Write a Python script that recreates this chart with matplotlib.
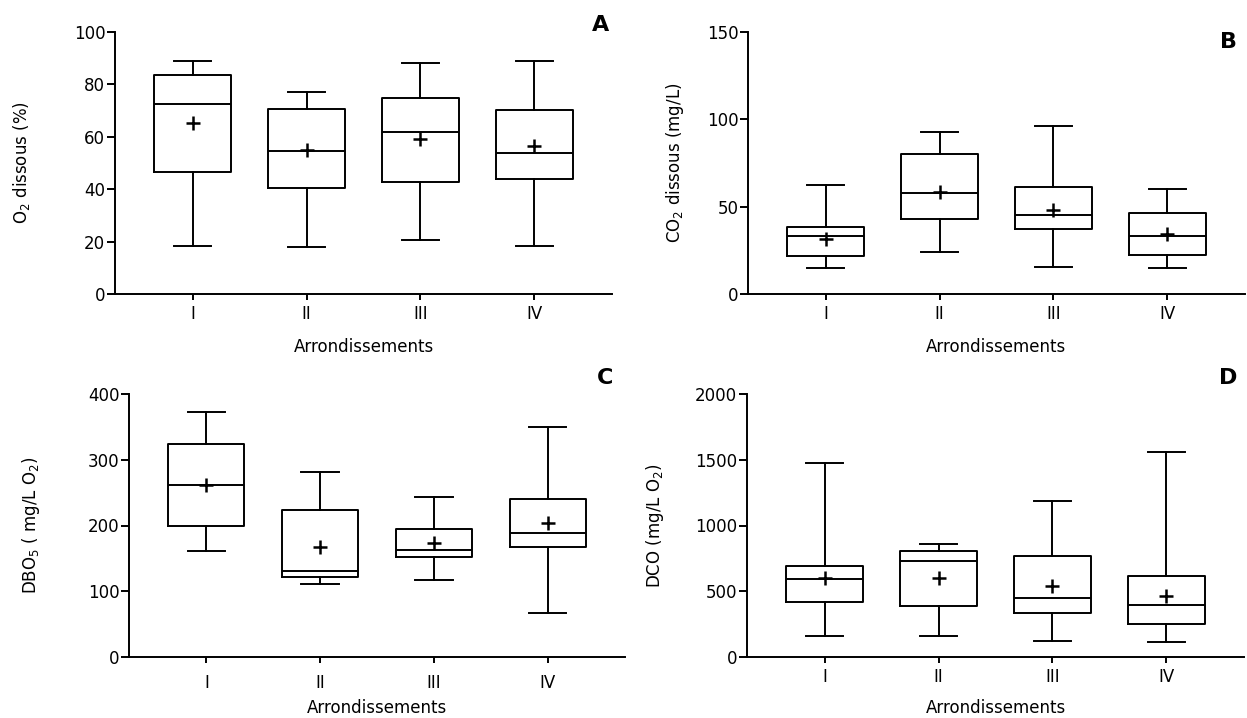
import matplotlib
matplotlib.use("Agg")
import matplotlib.pyplot as plt

plt.rcParams['font.family'] = ['DejaVu Sans']
plt.rcParams['mathtext.fontset'] = 'dejavusans'
tsize = 12
ysize = 12

arrond = ["I", "II", "III", "IV"]

# each list: one value per arrondissement (I..IV)
o2_min = [18.4, 17.8, 20.5, 18.4]
o2_q1 = [46.4, 40.3, 42.7, 43.9]
o2_med = [72.5, 54.5, 62.0, 53.9]
o2_q3 = [83.6, 70.7, 75.0, 70.2]
o2_max = [88.8, 77.0, 88.2, 88.8]
o2_mean = [65.1, 55.0, 59.0, 56.6]

co2_min = [14.7, 23.9, 15.7, 14.7]
co2_q1 = [22.0, 42.8, 37.2, 22.3]
co2_med = [33.4, 57.9, 45.5, 33.4]
co2_q3 = [38.6, 80.0, 61.1, 46.2]
co2_max = [62.3, 93.0, 96.1, 60.4]
co2_mean = [31.5, 58.3, 48.1, 34.4]

dbo_min = [161, 111, 117, 67]
dbo_q1 = [199, 121, 152, 168]
dbo_med = [262, 131, 163, 188]
dbo_q3 = [324, 223, 194, 240]
dbo_max = [372, 282, 243, 350]
dbo_mean = [262, 168, 174, 204]

dco_min = [162, 162, 124, 112]
dco_q1 = [420, 385, 337, 248]
dco_med = [595, 732, 446, 398]
dco_q3 = [691, 805, 767, 618]
dco_max = [1473, 856, 1188, 1562]
dco_mean = [598, 598, 537, 461]


def make_stats(lo, q1, med, q3, hi, mean):
	stats = []
	for i in range(len(arrond)):
		stats.append(dict(whislo=lo[i], q1=q1[i], med=med[i], q3=q3[i],
						  whishi=hi[i], mean=mean[i], fliers=[]))
	return stats


def draw_panel(ax, stats, ylim, yticks, ylabel, ylab_x, xlab_y, xpad):
	lw = 1.4
	ax.bxp(stats, positions=[1, 2, 3, 4], widths=0.67, capwidths=0.33,
		   showmeans=True, patch_artist=False,
		   boxprops=dict(color='black', linewidth=lw),
		   whiskerprops=dict(color='black', linewidth=lw),
		   capprops=dict(color='black', linewidth=lw),
		   medianprops=dict(color='black', linewidth=lw),
		   meanprops=dict(marker='+', markersize=10, markeredgewidth=1.8,
						  markeredgecolor='black'))
	ax.set_xlim(0.32, 4.68)
	ax.set_ylim(ylim)
	ax.set_yticks(yticks)
	ax.set_xticks([1, 2, 3, 4])
	ax.set_xticklabels(arrond)
	for s in ['top', 'right']:
		ax.spines[s].set_visible(False)
	for s in ['left', 'bottom']:
		ax.spines[s].set_linewidth(1.4)
	ax.spines['left'].set_bounds(ylim[0], ylim[1])
	ax.tick_params(axis='y', length=6, width=1.4, labelsize=tsize, pad=1)
	ax.tick_params(axis='x', length=4, width=1.4, labelsize=tsize, pad=xpad)
	ax.set_ylabel(ylabel, fontsize=ysize)
	ax.set_xlabel("Arrondissements", fontsize=tsize)
	ax.yaxis.set_label_coords(ylab_x, 0.5)
	ax.xaxis.set_label_coords(0.5, xlab_y)
	ax.patch.set_alpha(0)


fig = plt.figure(figsize=(12.47, 7.18), dpi=100)

W, H = 1247.0, 718.0
axA = fig.add_axes([115 / W, 1 - 294 / H, 497 / W, 262 / H])
axB = fig.add_axes([748 / W, 1 - 294 / H, 497 / W, 262 / H])
axC = fig.add_axes([129 / W, 1 - 657 / H, 496 / W, 263 / H])
axD = fig.add_axes([747 / W, 1 - 657 / H, 497 / W, 263 / H])

draw_panel(axA, make_stats(o2_min, o2_q1, o2_med, o2_q3, o2_max, o2_mean),
		   (0, 100), [0, 20, 40, 60, 80, 100], "O$_2$ dissous (%)",
		   -0.168, -0.168, 4)
draw_panel(axB, make_stats(co2_min, co2_q1, co2_med, co2_q3, co2_max, co2_mean),
		   (0, 150), [0, 50, 100, 150], "CO$_2$ dissous (mg/L)",
		   -0.124, -0.168, 4)
draw_panel(axC, make_stats(dbo_min, dbo_q1, dbo_med, dbo_q3, dbo_max, dbo_mean),
		   (0, 400), [0, 100, 200, 300, 400], "DBO$_5$ ( mg/L O$_2$)",
		   -0.176, -0.158, 8)
draw_panel(axD, make_stats(dco_min, dco_q1, dco_med, dco_q3, dco_max, dco_mean),
		   (0, 2000), [0, 500, 1000, 1500, 2000], "DCO (mg/L O$_2$)",
		   -0.162, -0.158, 4)

# panel letters
for lab, px, py in [("A", 601, 25), ("B", 1228, 42), ("C", 605, 378), ("D", 1228, 378)]:
	fig.text(px / W, 1 - py / H, lab, fontsize=16, fontweight='bold',
			 ha='center', va='center')

plt.savefig("out.png", dpi=100)
